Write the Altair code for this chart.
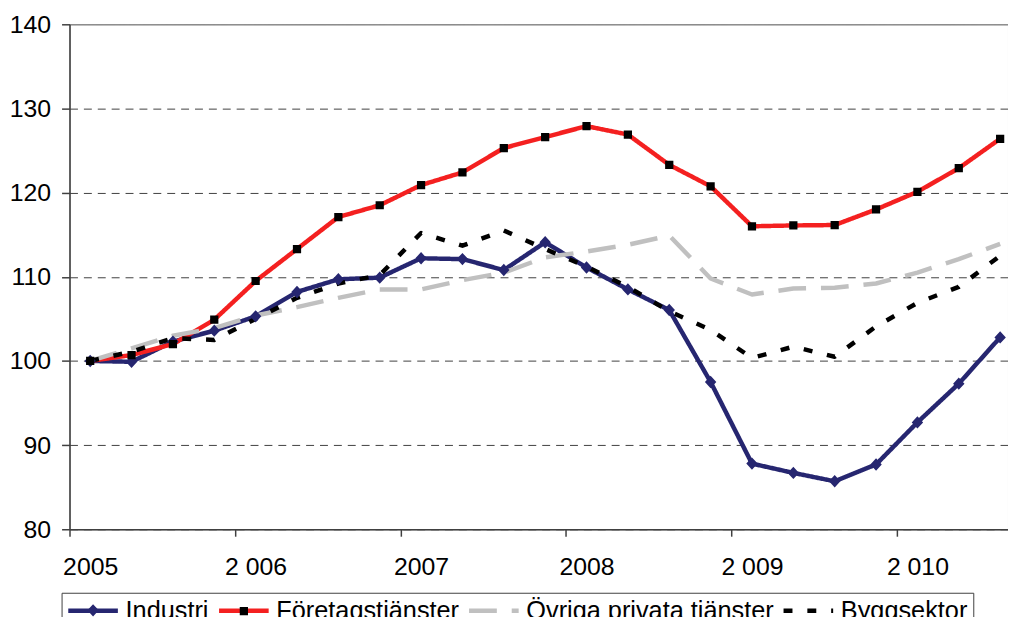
import altair as alt
import pandas as pd

FONT = "Liberation Sans"

quarters = list(range(23))
series_names = ["Industri", "Företagstjänster", "Övriga privata tjänster", "Byggsektor"]
marker_series = ["Industri", "Företagstjänster"]

industri = [100.0, 99.9, 102.3, 103.6, 105.3, 108.2, 109.7, 109.9, 112.2, 112.1, 110.8, 114.1,
            111.1, 108.5, 106.05, 97.5, 87.8, 86.7, 85.7, 87.7, 92.7, 97.3, 102.8]
foretag = [100.0, 100.7, 102.0, 104.9, 109.5, 113.3, 117.1, 118.5, 120.9, 122.4, 125.3, 126.6,
           127.9, 126.9, 123.3, 120.75, 116.0, 116.1, 116.15, 118.0, 120.1, 122.9, 126.4]
ovriga = [100.0, 101.5, 103.0, 103.9, 105.4, 106.4, 107.5, 108.5, 108.5, 109.6, 110.5, 112.3,
          113.0, 113.8, 114.9, 109.8, 107.9, 108.6, 108.7, 109.2, 110.5, 112.1, 113.9]
bygg = [100.0, 101.1, 102.7, 102.5, 105.0, 107.5, 109.2, 110.2, 115.2, 113.7, 115.5, 113.3,
        111.2, 108.8, 105.9, 103.7, 100.35, 101.7, 100.5, 104.1, 106.9, 108.8, 112.5]

x_ticks = [-0.5, 3.5, 7.5, 11.5, 15.5, 19.5]
x_label_pos = [0, 4, 8, 12, 16, 20]
year_labels = ["2005", "2 006", "2007", "2008", "2 009", "2 010"]
y_ticks = [80, 90, 100, 110, 120, 130, 140]

line_colors = ["#262670", "#f42020", "#c0c0c0", "#000000"]
line_dashes = [[1, 0], [1, 0], [28, 15], [9, 15]]
marker_colors = ["#262670", "#000000"]
# unit paths (scaled by 5 px at size 100); the leading segment is an invisible spacer
marker_shapes = ["M-5,0H5M0,-1.25L1.15,0L0,1.25L-1.15,0Z",
                 "M-5,0H5M-0.83,-0.83H0.83V0.83H-0.83Z"]

rows = []
for name, vals in zip(series_names, [industri, foretag, ovriga, bygg]):
    for q, v in zip(quarters, vals):
        rows.append({"q": q, "value": v, "series": name})
df = pd.DataFrame(rows)
mk = df[df["series"].isin(marker_series)].rename(columns={"series": "s2"})

label_expr = "[" + ",".join("'%s'" % s for s in year_labels) + "][round(datum.value / 4)]"

x_scale = alt.Scale(domain=[-0.5, 22.19], nice=False, zero=False)

x_tick_axis = alt.X(
    "q:Q", scale=x_scale,
    axis=alt.Axis(orient="bottom", values=x_ticks, labels=False, tickSize=7, grid=False,
                  title=None),
)
x_label_axis = alt.X(
    "q:Q", scale=x_scale,
    axis=alt.Axis(orient="bottom", values=x_label_pos, labelExpr=label_expr, tickSize=7,
                  tickOpacity=0, domain=False, grid=False, title=None, labelPadding=19,
                  labelOverlap=False, labelFlush=False, labelBound=False),
)
y_enc = alt.Y(
    "value:Q",
    scale=alt.Scale(domain=[80, 140], nice=False, zero=False),
    axis=alt.Axis(values=y_ticks, title=None, tickSize=8, labelPadding=11, grid=True,
                  gridColor={"condition": {"test": "datum.value === 140", "value": "#808080"},
                             "value": "#404040"},
                  gridDash={"condition": {"test": "datum.value === 140", "value": [1, 0]},
                            "value": [8, 6]}),
)

common_legend = dict(orient="none", legendX=-8, legendY=573, direction="horizontal",
                     title=None, symbolSize=100, symbolStrokeWidth=4.5, symbolOffset=14,
                     labelFont=FONT, labelFontSize=25.5, labelOffset=20, columnPadding=0,
                     padding=5, labelLimit=500)

legend_a = alt.Legend(symbolType="M-5,0H5", labelColor="black", strokeColor="#404040",
                      **common_legend)
legend_b = alt.Legend(labelOpacity=0, symbolStrokeColor="transparent", **common_legend)

lines = alt.Chart(df).mark_line(strokeWidth=4.5, strokeJoin="round").encode(
    x=x_tick_axis,
    y=y_enc,
    color=alt.Color("series:N", scale=alt.Scale(domain=series_names, range=line_colors),
                    legend=legend_a),
    strokeDash=alt.StrokeDash("series:N",
                              scale=alt.Scale(domain=series_names, range=line_dashes),
                              legend=legend_a),
)

markers = alt.Chart(mk).mark_point(filled=True, size=100, opacity=1, stroke="transparent",
                                   strokeWidth=4.5).encode(
    x=x_label_axis,
    y=y_enc,
    fill=alt.Fill("s2:N", scale=alt.Scale(domain=marker_series, range=marker_colors),
                  legend=legend_b),
    shape=alt.Shape("s2:N", scale=alt.Scale(domain=marker_series, range=marker_shapes),
                    legend=legend_b),
)

chart = (
    alt.layer(lines, markers)
    .resolve_axis(x="independent")
    .properties(width=946, height=509, autosize=alt.AutoSizeParams(type="none"),
                padding={"left": 62, "top": 14, "right": 0, "bottom": 86},
                background="white")
    .configure_view(stroke="#808080", strokeWidth=1)
    .configure_axis(labelFont=FONT, labelFontSize=25, labelColor="black",
                    domainColor="#404040", tickColor="#404040", domainWidth=1.5,
                    tickWidth=1.5)
)

chart.save("out.html", embed_options={"renderer": "svg", "actions": False})
